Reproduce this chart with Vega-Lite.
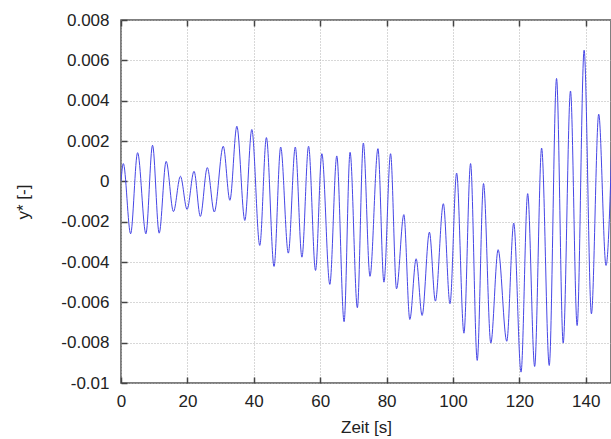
{
  "$schema": "https://vega.github.io/schema/vega-lite/v6.json",
  "width": 490,
  "height": 363,
  "autosize": {"type": "none"},
  "padding": {"left": 121, "top": 20, "right": 0, "bottom": 56},
  "background": "white",
  "config": {
    "view": {"stroke": "#555555", "strokeWidth": 1.5},
    "axis": {
      "labelFont": "Liberation Sans",
      "titleFont": "Liberation Sans",
      "labelFontSize": 17,
      "titleFontSize": 17,
      "titleFontWeight": "normal",
      "labelColor": "#222222",
      "titleColor": "#222222",
      "domain": false,
      "grid": true,
      "gridColor": "#b0b0b0",
      "gridDash": [1, 2],
      "gridWidth": 1,
      "tickColor": "#444444",
      "tickWidth": 1.5,
      "tickSize": -6
    }
  },
  "data": {
    "values": [
      {"t": 0, "y": 0},
      {"t": 0.7, "y": 0.00088},
      {"t": 2.9, "y": -0.0026},
      {"t": 5.0, "y": 0.00142},
      {"t": 7.5, "y": -0.0026},
      {"t": 9.5, "y": 0.00179},
      {"t": 11.5, "y": -0.00257},
      {"t": 13.6, "y": 0.00099},
      {"t": 15.8, "y": -0.0015},
      {"t": 17.9, "y": 0.00025},
      {"t": 19.9, "y": -0.00139},
      {"t": 22.0, "y": 0.0005},
      {"t": 23.9, "y": -0.00174},
      {"t": 26.0, "y": 0.00068},
      {"t": 28.1, "y": -0.00152},
      {"t": 30.8, "y": 0.00174},
      {"t": 32.8, "y": -0.00094},
      {"t": 34.9, "y": 0.00273},
      {"t": 37.3, "y": -0.00194},
      {"t": 39.4, "y": 0.00257},
      {"t": 41.8, "y": -0.00318},
      {"t": 43.8, "y": 0.00217},
      {"t": 46.1, "y": -0.00422},
      {"t": 48.1, "y": 0.0017},
      {"t": 50.4, "y": -0.00356},
      {"t": 52.5, "y": 0.0017},
      {"t": 54.5, "y": -0.00376},
      {"t": 56.5, "y": 0.00174},
      {"t": 58.6, "y": -0.00442},
      {"t": 60.5, "y": 0.00137},
      {"t": 62.9, "y": -0.00511},
      {"t": 65.0, "y": 0.00126},
      {"t": 67.2, "y": -0.00696},
      {"t": 69.0, "y": 0.00144},
      {"t": 71.2, "y": -0.00627},
      {"t": 73.0, "y": 0.0019},
      {"t": 75.0, "y": -0.00471},
      {"t": 77.4, "y": 0.00162},
      {"t": 79.2, "y": -0.005},
      {"t": 81.2, "y": 0.00137},
      {"t": 83.0, "y": -0.00533},
      {"t": 85.2, "y": -0.00165},
      {"t": 87.0, "y": -0.00685},
      {"t": 88.9, "y": -0.00384},
      {"t": 90.7, "y": -0.00665},
      {"t": 92.9, "y": -0.00252},
      {"t": 94.7, "y": -0.00594},
      {"t": 97.1, "y": -0.00111},
      {"t": 99.1, "y": -0.00607},
      {"t": 101.1, "y": 0.00041},
      {"t": 103.3, "y": -0.00753},
      {"t": 105.3, "y": 0.00088},
      {"t": 107.3, "y": -0.00888},
      {"t": 109.2, "y": -0.00011},
      {"t": 111.4, "y": -0.00802},
      {"t": 113.6, "y": -0.00339},
      {"t": 116.2, "y": -0.00793},
      {"t": 118.3, "y": -0.00207},
      {"t": 120.5, "y": -0.00946},
      {"t": 122.5, "y": -0.00061},
      {"t": 124.6, "y": -0.00918},
      {"t": 126.7, "y": 0.00165},
      {"t": 129.0, "y": -0.00913},
      {"t": 131.2, "y": 0.0051},
      {"t": 133.2, "y": -0.00802},
      {"t": 135.4, "y": 0.00448},
      {"t": 137.4, "y": -0.00715},
      {"t": 139.5, "y": 0.0065},
      {"t": 141.7, "y": -0.00657},
      {"t": 143.9, "y": 0.00333},
      {"t": 146.1, "y": -0.00417},
      {"t": 148.2, "y": 0.004}
    ]
  },
  "layer": [
    {
      "mark": {"type": "line", "interpolate": "monotone", "color": "#4646e6", "strokeWidth": 1, "clip": true},
      "encoding": {
        "x": {
          "field": "t", "type": "quantitative",
          "scale": {"domain": [0, 147.6], "nice": false, "zero": false},
          "axis": {"title": "Zeit [s]", "values": [0, 20, 40, 60, 80, 100, 120, 140], "labelFlush": false, "labelPadding": 16, "titlePadding": 10}
        },
        "y": {
          "field": "y", "type": "quantitative",
          "scale": {"domain": [-0.01, 0.008], "nice": false, "zero": false},
          "axis": {
            "title": "y* [-]",
            "values": [-0.01, -0.008, -0.006, -0.004, -0.002, 0, 0.002, 0.004, 0.006, 0.008],
            "labelExpr": "replace(format(datum.value, '.3~f'), '\u2212', '-')",
            "labelPadding": 18,
            "labelFlush": false,
            "titlePadding": 28
          }
        }
      }
    },
    {
      "mark": {"type": "line", "opacity": 0},
      "encoding": {
        "x": {
          "field": "t", "type": "quantitative",
          "axis": {"orient": "top", "title": null, "labels": false, "grid": false, "values": [0, 20, 40, 60, 80, 100, 120, 140]}
        },
        "y": {"field": "y", "type": "quantitative"}
      }
    }
  ],
  "resolve": {"axis": {"x": "independent"}}
}
